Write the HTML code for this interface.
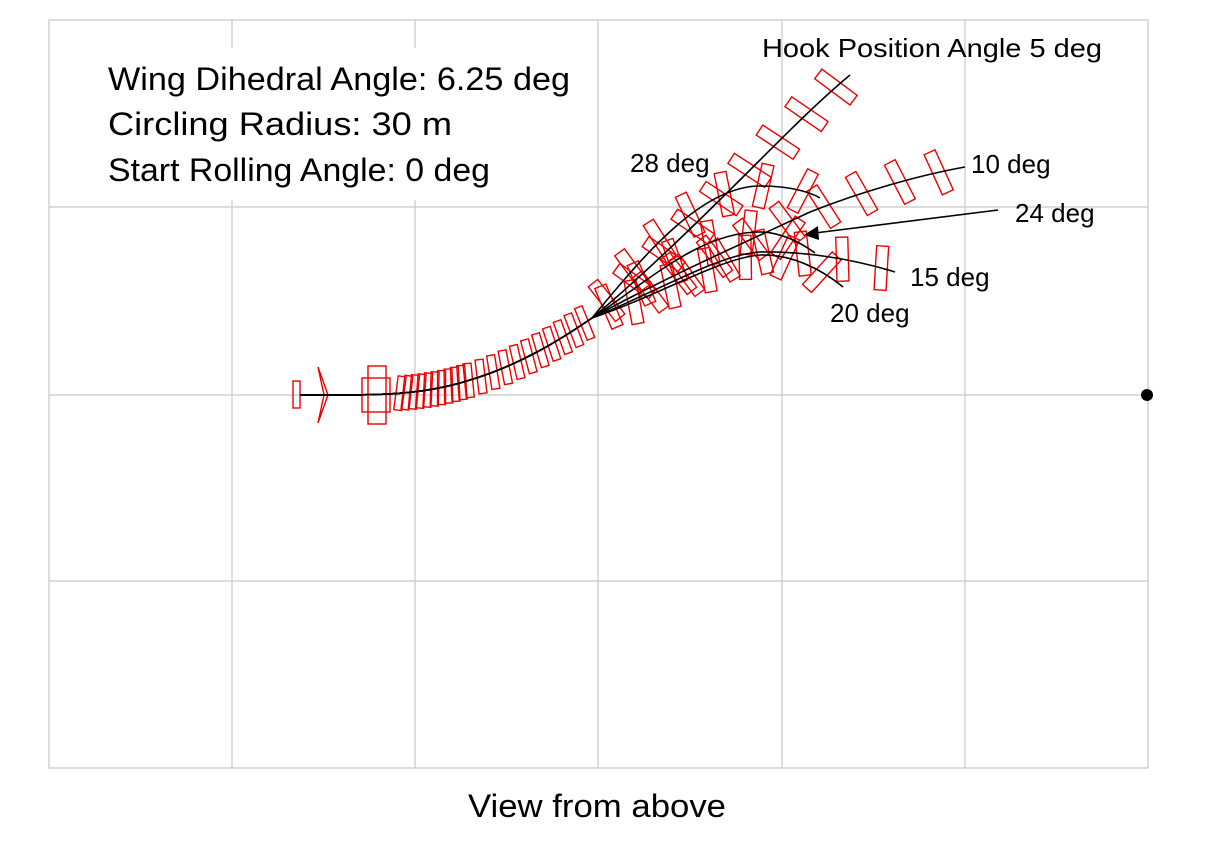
<!DOCTYPE html><html><head><style>body{margin:0;background:#fff}svg{display:block}</style></head><body>
<svg id="s" width="1209" height="851" xmlns="http://www.w3.org/2000/svg" font-family="Liberation Sans, sans-serif">
<g stroke="#c8c8c8" stroke-width="1.2" fill="none">
<rect x="49" y="20" width="1099" height="748"/>
<line x1="232" y1="20" x2="232" y2="768"/><line x1="415" y1="20" x2="415" y2="768"/><line x1="598" y1="20" x2="598" y2="768"/><line x1="782" y1="20" x2="782" y2="768"/><line x1="965" y1="20" x2="965" y2="768"/>
<line x1="49" y1="207" x2="1148" y2="207"/><line x1="49" y1="395" x2="1148" y2="395"/><line x1="49" y1="581" x2="1148" y2="581"/>
</g>
<rect x="100" y="48" width="480" height="152" fill="#fff"/>
<g id="red" fill="none" stroke="#e00" stroke-width="1.4"></g>
<g id="blk" fill="none" stroke="#000" stroke-width="1.6"></g>
<circle cx="1147" cy="395" r="6" fill="#000"/>
<g font-size="32" fill="#000" font-family="Liberation Sans, DejaVu Sans, sans-serif" lengthAdjust="spacingAndGlyphs">
<text x="108" y="90" textLength="462" lengthAdjust="spacingAndGlyphs">Wing Dihedral Angle: 6.25 deg</text>
<text x="108" y="135" textLength="344" lengthAdjust="spacingAndGlyphs">Circling Radius: 30 m</text>
<text x="108" y="181" textLength="382" lengthAdjust="spacingAndGlyphs">Start Rolling Angle: 0 deg</text>
<text x="468" y="817" textLength="258" lengthAdjust="spacingAndGlyphs">View from above</text>
</g>
<g font-size="26" fill="#000">
<text x="762" y="57" textLength="340" lengthAdjust="spacingAndGlyphs">Hook Position Angle 5 deg</text>
<text x="630" y="172">28 deg</text>
<text x="971" y="173">10 deg</text>
<text x="1015" y="222">24 deg</text>
<text x="910" y="286">15 deg</text>
<text x="830" y="322">20 deg</text>
</g>
<line x1="998" y1="210" x2="815" y2="233" stroke="#000" stroke-width="1.6"/>
<polygon points="804,235 818,226 819,240" fill="#000"/>
</svg>
<script>
var NS="http://www.w3.org/2000/svg";
var base="M300,395 C380,395 420,396 470,380 C520,365 560,340 592,318";
var ends=[
"C650,270 720,200 760,160 C790,130 820,100 850,75",
"C640,260 700,186 760,186 C790,186 810,192 820,198",
"C660,280 750,240 810,212 C860,192 920,175 965,167",
"C650,280 700,232 760,232 C780,232 800,242 815,253",
"C660,290 720,254 760,252 C800,251 850,258 895,272",
"C660,295 720,258 760,255 C790,254 820,268 843,287"];
var blk=document.getElementById('blk'),red=document.getElementById('red');
ends.forEach(function(e,k){var p=document.createElementNS(NS,'path');p.setAttribute('d',base+" "+e);blk.appendChild(p);
 var L=p.getTotalLength();var st=L*0.55+k*7;
 for(var l=st;l<L;l+=40){var a=p.getPointAtLength(l),b=p.getPointAtLength(Math.min(L,l+1));
  var ang=Math.atan2(b.y-a.y,b.x-a.x)*180/Math.PI;
  var r=document.createElementNS(NS,'rect');r.setAttribute('x',-6);r.setAttribute('y',-22);r.setAttribute('width',12);r.setAttribute('height',44);
  r.setAttribute('transform','translate('+a.x+','+a.y+') rotate('+(ang+ (k%2?12:-12))+')');red.appendChild(r);}
});
var p0=document.createElementNS(NS,'path');p0.setAttribute('d',base);blk.appendChild(p0);var L0=p0.getTotalLength();
for(var l=100;l<L0;l+=(l<170?7:13)){var a=p0.getPointAtLength(l),b=p0.getPointAtLength(l+1);
 var ang=Math.atan2(b.y-a.y,b.x-a.x)*180/Math.PI;var h=34;
 var r=document.createElementNS(NS,'rect');r.setAttribute('x',-4);r.setAttribute('y',-h/2);r.setAttribute('width',8);r.setAttribute('height',h);
 r.setAttribute('transform','translate('+a.x+','+a.y+') rotate('+(ang+12)+')');red.appendChild(r);}
red.innerHTML+='<rect x="293" y="381" width="7" height="27"/><polyline points="318,367 328,395 318,423 324,395 318,367"/><rect x="362" y="378" width="28" height="34"/><rect x="368" y="366" width="18" height="58"/>';
</script>
</body></html>
